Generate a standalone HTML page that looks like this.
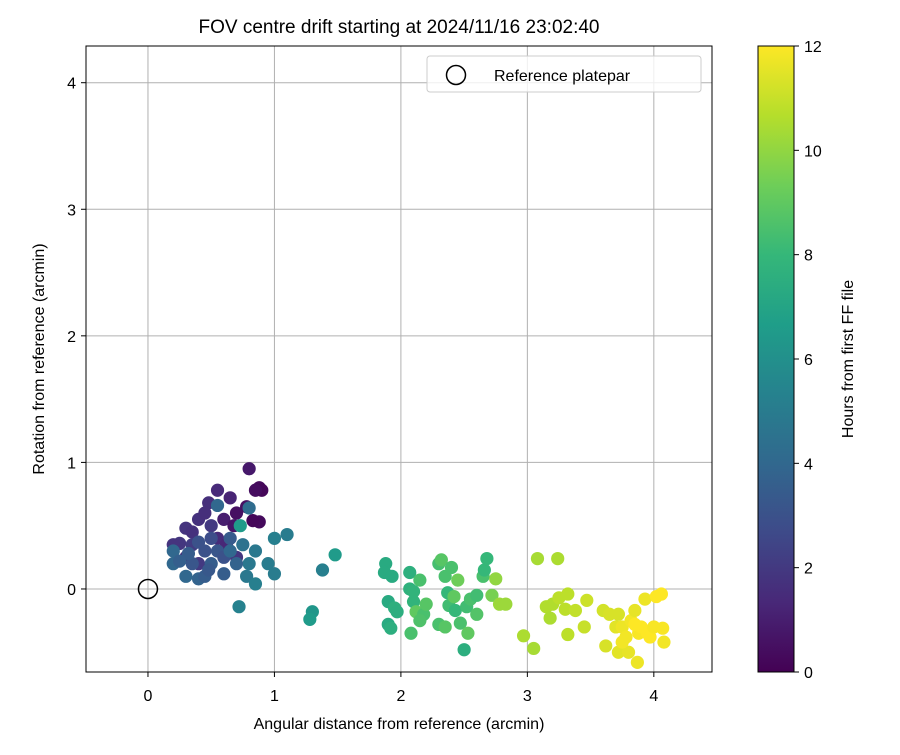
<!DOCTYPE html>
<html><head><meta charset="utf-8"><style>
body{margin:0;background:#fff}
svg text{font-family:"Liberation Sans","DejaVu Sans",sans-serif;fill:#000}
</style></head><body>
<svg id="c" width="900" height="750" xmlns="http://www.w3.org/2000/svg"></svg>
<script>
const xTicks=[0,1,2,3,4];
const yTicks=[0,1,2,3,4];
const cbTicks=[0,2,4,6,8,10,12];
const xs=[0.8,0.88,0.9,0.85,0.88,0.83,0.78,0.7,0.65,0.55,0.48,0.6,0.68,0.3,0.35,0.25,0.2,0.4,0.45,0.5,0.3,0.4,0.55,0.62,0.7,0.35,
0.2,0.2,0.3,0.4,0.45,0.5,0.55,0.45,0.6,0.65,0.55,0.8,0.75,0.8,0.78,0.85,0.95,1.0,0.85,1.0,1.1,0.4,0.35,0.6,0.7,0.5,0.32,0.25,0.48,0.65,
0.73,0.72,1.38,1.48,1.3,1.28,
1.88,1.87,1.93,1.9,1.9,1.92,1.95,1.97,2.07,2.07,2.1,2.1,2.08,2.15,2.12,2.18,2.2,2.15,2.3,2.32,2.35,2.4,2.37,2.38,2.3,2.35,2.42,2.45,2.43,2.47,2.5,2.52,2.55,2.53,2.6,2.65,2.66,2.68,2.72,2.75,2.78,2.83,2.6,
3.08,3.24,2.97,3.05,3.15,3.2,3.18,3.25,3.3,3.32,3.38,3.32,3.45,3.47,
3.6,3.65,3.72,3.62,3.7,3.75,3.72,3.8,3.78,3.82,3.85,3.87,3.88,3.9,3.93,3.95,3.97,4.0,4.02,4.06,4.07,4.08,3.85,3.75];
const ys=[0.95,0.8,0.78,0.78,0.53,0.54,0.65,0.6,0.72,0.78,0.68,0.55,0.5,0.48,0.45,0.36,0.35,0.55,0.6,0.5,0.25,0.2,0.4,0.35,0.25,0.35,
0.3,0.2,0.1,0.08,0.1,0.2,0.3,0.3,0.25,0.4,0.66,0.64,0.35,0.2,0.1,0.3,0.2,0.12,0.04,0.4,0.43,0.37,0.2,0.12,0.2,0.4,0.28,0.22,0.15,0.3,
0.5,-0.14,0.15,0.27,-0.18,-0.24,
0.2,0.13,0.1,-0.1,-0.28,-0.31,-0.15,-0.18,0.13,0.0,-0.02,-0.1,-0.35,0.07,-0.18,-0.2,-0.12,-0.25,0.2,0.23,0.1,0.17,-0.03,-0.13,-0.28,-0.3,-0.06,0.07,-0.17,-0.27,-0.48,-0.14,-0.08,-0.35,-0.05,0.1,0.15,0.24,-0.05,0.08,-0.12,-0.12,-0.2,
0.24,0.24,-0.37,-0.47,-0.14,-0.12,-0.23,-0.07,-0.16,-0.04,-0.17,-0.36,-0.3,-0.09,
-0.17,-0.2,-0.2,-0.45,-0.3,-0.3,-0.5,-0.5,-0.38,-0.25,-0.17,-0.58,-0.35,-0.3,-0.08,-0.35,-0.38,-0.3,-0.06,-0.04,-0.31,-0.42,-0.28,-0.42];
const hours=[0.8,0.3,0.2,0.4,0.3,0.2,0.5,0.5,1.2,1.4,1.6,1.0,0.7,1.8,1.7,1.9,1.8,1.7,1.6,2.0,1.6,2.0,1.5,1.3,1.9,2.1,
4.0,4.0,4.0,3.8,3.5,3.5,3.2,3.0,3.0,3.4,4.0,4.2,4.5,4.8,4.8,4.8,5.0,5.0,5.2,5.2,5.0,3.0,3.2,3.5,3.8,2.8,3.5,3.6,3.3,4.0,
6.5,5.3,5.2,6.5,6.3,6.5,
7.3,7.3,7.3,7.3,7.3,7.5,7.6,7.5,7.6,7.7,7.8,7.8,8.5,8.5,9.0,8.5,8.8,8.6,8.4,8.8,8.5,8.5,8.0,8.3,8.5,8.8,9.0,9.3,8.0,8.5,7.5,8.3,8.5,9.0,8.3,8.5,8.0,8.0,9.5,10.0,10.2,10.2,8.7,
10.4,10.5,10.5,10.4,10.6,10.6,10.5,10.8,10.8,10.8,10.9,10.8,11,11.1,
11.2,11.3,11.3,11.3,11.5,11.7,11.5,11.6,11.8,11.8,11.6,11.7,11.9,12.0,11.7,12.0,12.0,11.9,12.0,12.0,11.9,11.8,12.0,11.8];

const L=86,R=712,T=46,B=672,x0=-0.49,x1=4.46,y0=-0.656,y1=4.29;
const sx=v=>L+(v-x0)/(x1-x0)*(R-L);
const sy=v=>B-(v-y0)/(y1-y0)*(B-T);
const vir=[[68,1,84],[72,40,120],[62,74,137],[49,104,142],[38,130,142],[31,158,137],[53,183,121],[110,206,88],[181,222,43],[253,231,37]];
function cmap(t){t=Math.max(0,Math.min(1,t))*(vir.length-1);const i=Math.min(Math.floor(t),vir.length-2),f=t-i;
const c=vir[i].map((a,k)=>Math.round(a+(vir[i+1][k]-a)*f));return `rgb(${c})`;}
const svg=document.getElementById('c');const NS='http://www.w3.org/2000/svg';
function mk(tag,attrs,parent,name){const e=document.createElementNS(NS,tag);for(const k in attrs)e.setAttribute(k,attrs[k]);


(parent||svg).appendChild(e);return e;}
function txt(s,attrs,name){const e=mk('text',attrs,svg,name);e.textContent=s;return e;}
xTicks.forEach(v=>{mk('line',{x1:sx(v),x2:sx(v),y1:T,y2:B,stroke:'#b0b0b0','stroke-width':1},svg,'x-grid-line');
mk('line',{x1:sx(v),x2:sx(v),y1:B,y2:B+5,stroke:'#000'},svg,'x-tick');
txt(String(v),{x:sx(v),y:B+29,'text-anchor':'middle','font-size':16},'x-tick-label');});
yTicks.forEach(v=>{mk('line',{x1:L,x2:R,y1:sy(v),y2:sy(v),stroke:'#b0b0b0','stroke-width':1},svg,'y-grid-line');
mk('line',{x1:L-5,x2:L,y1:sy(v),y2:sy(v),stroke:'#000'},svg,'y-tick');
txt(String(v),{x:L-10,y:sy(v)+6,'text-anchor':'end','font-size':16},'y-tick-label');});
for(let i=0;i<xs.length;i++){mk('circle',{cx:sx(xs[i]),cy:sy(ys[i]),r:6.6,fill:cmap(hours[i]/12)},svg,'data-point');}
mk('circle',{cx:sx(0),cy:sy(0),r:9.5,fill:'none',stroke:'#000','stroke-width':1.5},svg,'reference-marker');
mk('rect',{x:L,y:T,width:R-L,height:B-T,fill:'none',stroke:'#000','stroke-width':1},svg,'plot-frame');
const lg=mk('g',{},svg,'legend');
mk('rect',{x:427,y:56,width:274,height:36,rx:3,fill:'#fff','fill-opacity':0.8,stroke:'#ccc'},lg,'legend-box');
mk('circle',{cx:456,cy:75,r:9.5,fill:'none',stroke:'#000','stroke-width':1.5},lg,'legend-marker');
const lt=mk('text',{x:494,y:81,'font-size':16},lg,'legend-label');lt.textContent='Reference platepar';
txt('FOV centre drift starting at 2024/11/16 23:02:40',{x:399,y:33,'text-anchor':'middle','font-size':19},'chart-title');
txt('Angular distance from reference (arcmin)',{x:399,y:729,'text-anchor':'middle','font-size':16},'x-axis-title');
txt('Rotation from reference (arcmin)',{x:0,y:0,'text-anchor':'middle','font-size':16,transform:`translate(44,359) rotate(-90)`},'y-axis-title');
const CL=758,CR=794;
const defs=mk('defs',{},svg,'defs');const gr=mk('linearGradient',{id:'vg',x1:0,y1:1,x2:0,y2:0},defs,'colorbar-gradient');
vir.forEach((c,i)=>mk('stop',{offset:i/(vir.length-1),'stop-color':`rgb(${c})`},gr,'gradient-stop'));
mk('rect',{x:CL,y:T,width:CR-CL,height:B-T,fill:'url(#vg)',stroke:'#000'},svg,'colorbar');
cbTicks.forEach(v=>{const y=B-v/12*(B-T);mk('line',{x1:CR,x2:CR+5,y1:y,y2:y,stroke:'#000'},svg,'colorbar-tick');
txt(String(v),{x:CR+10,y:y+6,'font-size':16},'colorbar-tick-label');});
txt('Hours from first FF file',{x:0,y:0,'text-anchor':'middle','font-size':16,transform:`translate(853,359) rotate(-90)`},'colorbar-title');
</script>
</body></html>
